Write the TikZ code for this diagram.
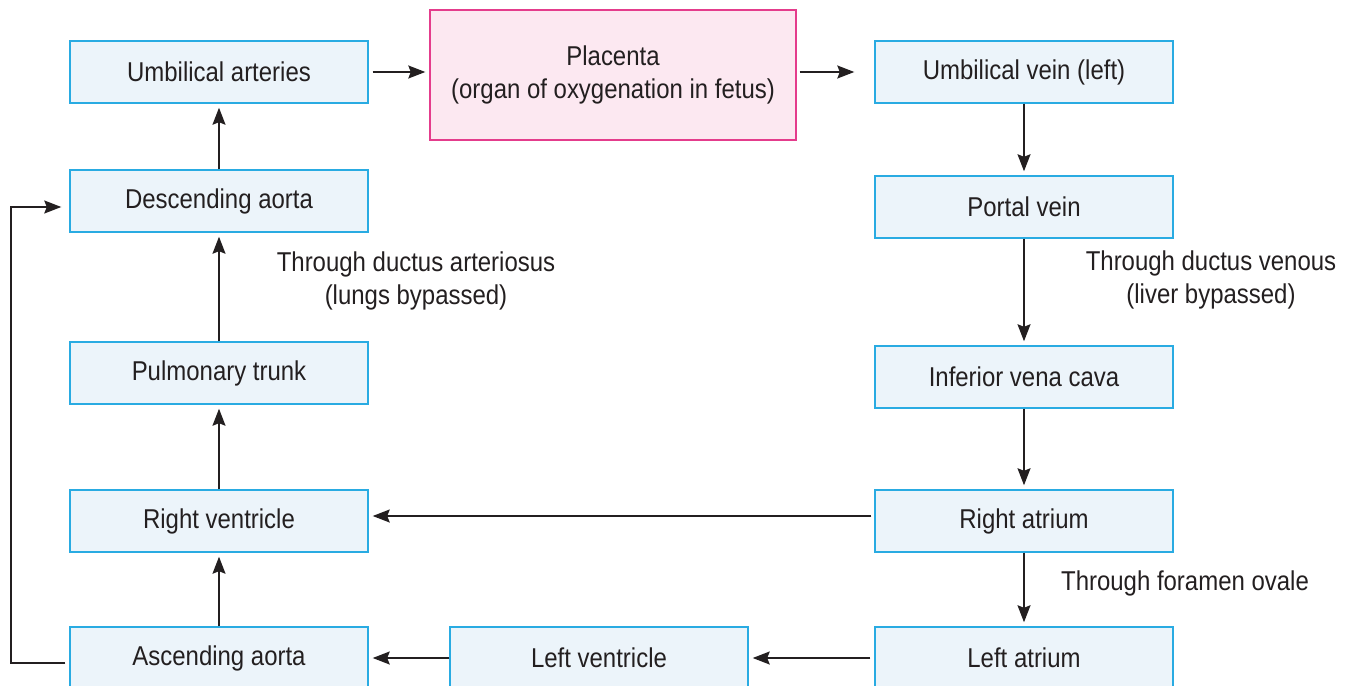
\documentclass[tikz,border=0pt]{standalone}
\usepackage{fontspec}
\setmainfont{Liberation Sans}[FakeStretch=0.88]
\usetikzlibrary{arrows.meta}
\usetikzlibrary{calc}

\definecolor{boxline}{RGB}{41,171,226}
\definecolor{boxfill}{RGB}{236,244,250}
\definecolor{plline}{RGB}{228,60,140}
\definecolor{plfill}{RGB}{252,232,241}
\definecolor{ink}{RGB}{35,31,32}

\tikzset{
	organ/.style={draw=boxline,fill=boxfill,line width=0.85pt,minimum width=5.96cm,minimum height=1.24cm,inner sep=0pt,text=ink,font=\fontsize{15.5}{18.5}\selectfont},
	placbox/.style={organ,draw=plline,fill=plfill,minimum width=7.32cm,minimum height=2.6cm,align=center},
	flow/.style={draw=ink,line width=0.9pt,-{Stealth[length=0.34cm,width=0.26cm,inset=0.05cm]},shorten >=0.08cm},
	note/.style={text=ink,align=center,font=\fontsize{15.5}{18.5}\selectfont}
}

\begin{document}
\begin{tikzpicture}[x=0.02cm,y=-0.02cm]
		\clip (0,0) rectangle (1349,686);
		\fill[white] (0,0) rectangle (1349,686);
		
		% left column
		\node[organ] (ua) at (219,72) {Umbilical arteries};
		\node[organ] (da) at (219,201) {Descending aorta};
		\node[organ] (pt) at (219,373) {Pulmonary trunk};
		\node[organ] (rv) at (219,521) {Right ventricle};
		\node[organ] (asc) at (219,658) {Ascending aorta};
		
		% top and bottom middle
		\node[placbox] (pl) at (613,75) {Placenta\\(organ of oxygenation in fetus)};
		\node[organ] (lv) at (599,658) {Left ventricle};
		
		% right column
		\node[organ] (uv) at (1024,72) {Umbilical vein (left)};
		\node[organ] (pv) at (1024,207) {Portal vein};
		\node[organ] (ivc) at (1024,377) {Inferior vena cava};
		\node[organ] (ra) at (1024,521) {Right atrium};
		\node[organ] (la) at (1024,658) {Left atrium};
		
		\draw[flow,shorten <=0.08cm] (ua.east) -- (ua.east -| pl.west);
		\draw[flow,shorten <=0.06cm,shorten >=0.4cm] (uv.west -| pl.east) -- (uv.west);
		\draw[flow] (uv.south) -- (pv.north);
		\draw[flow] (pv.south) -- (ivc.north);
		\draw[flow] (ivc.south) -- (ra.north);
		\draw[flow] (ra.south) -- (la.north);
		\draw[flow,shorten <=0.08cm] (la.west) -- (lv.east);
		\draw[flow] (lv.west) -- (asc.east);
		\draw[flow,shorten <=0.06cm] ([yshift=0.1cm]ra.west) -- ([yshift=0.1cm]rv.east);
		\draw[flow] (asc.north) -- (rv.south);
		\draw[flow] (rv.north) -- (pt.south);
		\draw[flow] (pt.north) -- (da.south);
		\draw[flow] (da.north) -- (ua.south);
		\draw[flow,shorten <=0.08cm,shorten >=0.16cm] ([yshift=-0.1cm]asc.west) -- ++(-58,0) |- ([yshift=-0.12cm]da.west);
		
		\node[note] (dart) at (416,281) {Through ductus arteriosus\\(lungs bypassed)};
		\node[note] (dven) at (1211,280) {Through ductus venous\\(liver bypassed)};
		\node[note] (fov) at (1185,583) {Through foramen ovale};
		
	\end{tikzpicture}
\end{document}
